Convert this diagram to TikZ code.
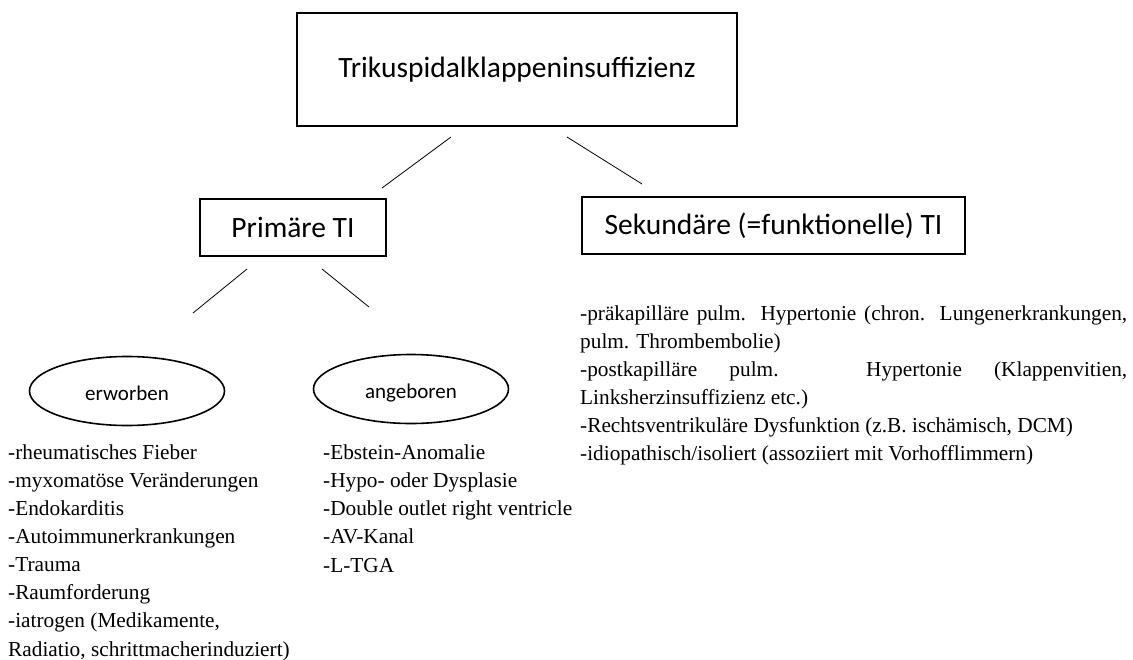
\documentclass[tikz,border=0pt]{standalone}
\usepackage{fontspec}
\setmainfont{Liberation Serif}
\newfontfamily\boxfont{Carlito}
\usetikzlibrary{shapes.geometric}
\setlength{\parindent}{0pt}

\begin{document}
\begin{tikzpicture}[
                x=1pt,y=-1pt,
                every node/.append style={black},
                box/.style={draw,line width=1.6pt,minimum height=57pt,inner sep=0pt,
                    font=\boxfont\fontsize{29.5}{34}\selectfont},
                oval/.style={draw,ellipse,line width=1.6pt,minimum width=195pt,
                    minimum height=69pt,inner sep=0pt,text height=20pt,text depth=2pt,
                    font=\boxfont\fontsize{21}{24}\selectfont},
                liste/.style={anchor=base west,inner sep=0pt,align=left,
                    font=\fontsize{21.3}{28.1}\selectfont},
                zweig/.style={line width=0.8pt}
            ]
                \useasboundingbox (0,0) rectangle (1133,659);

                \node[box,minimum width=440pt,minimum height=113pt] (tki) at (517,69.5)
                    {Trikuspidalklappeninsuffizienz};
                \node[box,minimum width=186pt] (prim) at (293,227.5) {Primäre TI};
                \node[box,minimum width=383pt] (sek) at (773.5,225.5) {Sekundäre (=funktionelle) TI};

                \node[oval] (erw) at (127,391) {erworben};
                \node[oval] (ang) at (411,389) {angeboren};

                \coordinate (a1) at (451,137);
                \coordinate (a2) at (382,188);
                \coordinate (b1) at (567,137);
                \coordinate (b2) at (642,184);
                \coordinate (c1) at (247,269);
                \coordinate (c2) at (193,313);
                \coordinate (d1) at (322,269);
                \coordinate (d2) at (369,307);

                \draw[zweig] (a1) -- (a2);
                \draw[zweig] (b1) -- (b2);
                \draw[zweig] (c1) -- (c2);
                \draw[zweig] (d1) -- (d2);

                % base of a multi-line list = last line
                \node[liste] (erwliste) at (8,656) {-rheumatisches Fieber\\
                    -myxomatöse Veränderungen\\
                    -Endokarditis\\
                    -Autoimmunerkrankungen\\
                    -Trauma\\
                    -Raumforderung\\
                    -iatrogen (Medikamente,\\
                    Radiatio, schrittmacherinduziert)};
                \node[liste] (angliste) at (323,572) {-Ebstein-Anomalie\\
                    -Hypo- oder Dysplasie\\
                    -Double outlet right ventricle\\
                    -AV-Kanal\\
                    -L-TGA};
                \node[liste,text width=547pt,align=justify] (sekliste) at (580,320)
                    {\hyphenpenalty=10000 \tolerance=10000
                    -präkapilläre pulm. Hypertonie (chron. Lungenerkrankungen,\linebreak pulm. Thrombembolie)\par
                    -postkapilläre pulm. Hypertonie (Klappenvitien,\linebreak Linksherzinsuffizienz etc.)\par
                    -Rechtsventrikuläre Dysfunktion (z.B. ischämisch, DCM)\par
                    -idiopathisch/isoliert (assoziiert mit Vorhofflimmern)};
            \end{tikzpicture}
\end{document}
